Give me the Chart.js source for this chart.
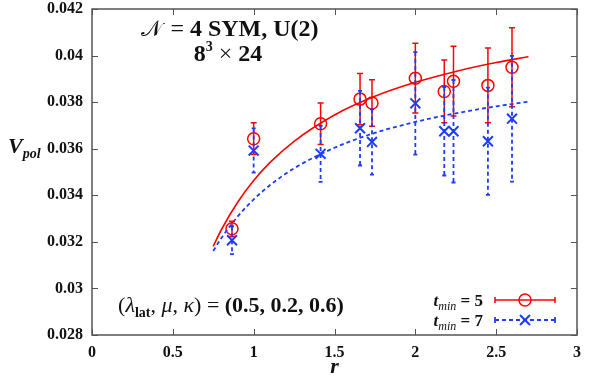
<!DOCTYPE html>
<html>
<head>
<meta charset="utf-8">
<script src="https://cdn.jsdelivr.net/npm/chart.js@4.4.1/dist/chart.umd.min.js"></script>
<style>
  html, body { margin: 0; padding: 0; background: #fff; }
  #wrap { width: 590px; height: 382px; }
</style>
</head>
<body>
<div id="wrap"><canvas id="chart" width="590" height="382"></canvas></div>
<script>
// separations r (lattice units)
const rVals = [0.866, 1, 1.414, 1.658, 1.732, 2, 2.179, 2.236, 2.449, 2.598];

// t_min = 5
const vT5 = [0.03256, 0.03643, 0.03707, 0.03813, 0.03796, 0.03903, 0.03846, 0.0389, 0.03872, 0.0395];
const errT5 = [0.00033, 0.00068, 0.00089, 0.0011, 0.001, 0.0015, 0.00135, 0.0015, 0.0016, 0.0017];

// t_min = 7
const vT7 = [0.03207, 0.03592, 0.03578, 0.03688, 0.03629, 0.03795, 0.03675, 0.03675, 0.03632, 0.03729];
const errT7 = [0.0006, 0.00095, 0.0012, 0.0016, 0.0014, 0.0022, 0.0019, 0.0022, 0.0023, 0.0027];

// fit curves
const fitR = [0.75, 0.8, 0.9, 1.0, 1.1, 1.25, 1.5, 1.75, 2.0, 2.25, 2.5, 2.7];
const fitT5 = [0.03181, 0.03252, 0.03369, 0.03463, 0.0354, 0.03632, 0.03745, 0.03825, 0.03885, 0.03932, 0.0397, 0.03995];
const fitT7 = [0.03161, 0.03216, 0.03308, 0.03382, 0.03443, 0.03516, 0.03604, 0.03668, 0.03715, 0.03752, 0.03782, 0.03802];

const xTicks = [0, 0.5, 1, 1.5, 2, 2.5, 3];
const yTicks = [0.028, 0.03, 0.032, 0.034, 0.036, 0.038, 0.04, 0.042];

const RED = "#ff0000";
const BLUE = "#1e3cff";
const SERIF = "'Liberation Serif', 'DejaVu Serif', serif";

const pts = (xs, ys) => xs.map((x, i) => ({ x: x, y: ys[i] }));

// draw a row of text pieces with different fonts
function drawRuns(ctx, runs, x, y, align) {
  let total = 0;
  runs.forEach(r => { ctx.font = r.font; r.w = ctx.measureText(r.t).width + (r.extra || 0); total += r.w; });
  let cx = align === "center" ? x - total / 2 : align === "right" ? x - total : x;
  ctx.textAlign = "left";
  ctx.textBaseline = "alphabetic";
  runs.forEach(r => {
    ctx.font = r.font;
    ctx.fillText(r.t, cx, y + (r.dy || 0));
    cx += r.w;
  });
}

const errorBars = {
  id: "errorBars",
  afterDatasetsDraw(chart) {
    const { ctx, scales: { x, y } } = chart;
    const sets = [
      { v: vT5, e: errT5, color: RED, dash: [], cap: 3, width: 1.5 },
      { v: vT7, e: errT7, color: BLUE, dash: [4, 3], cap: 2, width: 1.8 }
    ];
    ctx.save();
    sets.forEach(s => {
      ctx.strokeStyle = s.color;
      ctx.lineWidth = s.width;
      rVals.forEach((r, i) => {
        const px = x.getPixelForValue(r);
        const top = y.getPixelForValue(s.v[i] + s.e[i]);
        const bot = y.getPixelForValue(s.v[i] - s.e[i]);
        ctx.setLineDash(s.dash);
        ctx.beginPath();
        ctx.moveTo(px, top);
        ctx.lineTo(px, bot);
        ctx.stroke();
        ctx.setLineDash([]);
        ctx.beginPath();
        ctx.moveTo(px - s.cap, top); ctx.lineTo(px + s.cap, top);
        ctx.moveTo(px - s.cap, bot); ctx.lineTo(px + s.cap, bot);
        ctx.stroke();
      });
    });
    ctx.restore();
  }
};

const frameAndText = {
  id: "frameAndText",
  afterDraw(chart) {
    const { ctx, chartArea: a, scales: { x, y } } = chart;
    ctx.save();
    // frame
    ctx.strokeStyle = "#555";
    ctx.lineWidth = 1.5;
    ctx.strokeRect(a.left, a.top, a.right - a.left, a.bottom - a.top);
    // inward ticks on all sides
    ctx.lineWidth = 1;
    ctx.beginPath();
    xTicks.forEach(t => {
      const px = Math.round(x.getPixelForValue(t)) + 0.5;
      ctx.moveTo(px, a.bottom); ctx.lineTo(px, a.bottom - 6);
      ctx.moveTo(px, a.top); ctx.lineTo(px, a.top + 6);
    });
    yTicks.forEach(t => {
      const py = Math.round(y.getPixelForValue(t)) + 0.5;
      ctx.moveTo(a.left, py); ctx.lineTo(a.left + 6, py);
      ctx.moveTo(a.right, py); ctx.lineTo(a.right - 6, py);
    });
    ctx.stroke();

    ctx.fillStyle = "#111";
    // y axis title
    drawRuns(ctx, [
      { t: "V", font: "italic bold 22px " + SERIF },
      { t: "pol", font: "italic bold 14px " + SERIF, dy: 5 }
    ], 8, 153, "left");

    // header
    drawRuns(ctx, [
      { t: "\u{1D4A9}", font: "22px 'DejaVu Sans', " + SERIF, extra: 8 },
      { t: "= ", font: "24px " + SERIF },
      { t: "4 SYM, U(2)", font: "bold 24px " + SERIF }
    ], 230, 36, "center");
    drawRuns(ctx, [
      { t: "8", font: "bold 24px " + SERIF },
      { t: "3", font: "bold 14px " + SERIF, dy: -10 },
      { t: " \u00D7 ", font: "24px " + SERIF },
      { t: "24", font: "bold 24px " + SERIF }
    ], 228, 61, "center");

    // parameters
    drawRuns(ctx, [
      { t: "(", font: "22px " + SERIF },
      { t: "\u03BB", font: "italic 22px " + SERIF },
      { t: "lat", font: "bold 14px " + SERIF, dy: 5 },
      { t: ", ", font: "22px " + SERIF },
      { t: "\u03BC", font: "italic 22px " + SERIF },
      { t: ", ", font: "22px " + SERIF },
      { t: "\u03BA", font: "italic 22px " + SERIF },
      { t: ") = ", font: "22px " + SERIF },
      { t: "(0.5, 0.2, 0.6)", font: "bold 22px " + SERIF }
    ], 231, 312, "center");

    // legend
    const legend = [
      { label: "5", color: RED, dash: [], yy: 300 },
      { label: "7", color: BLUE, dash: [4, 3], yy: 320 }
    ];
    legend.forEach((l, i) => {
      ctx.fillStyle = "#111";
      drawRuns(ctx, [
        { t: "t", font: "italic bold 17px " + SERIF },
        { t: "min", font: "italic 12px " + SERIF, dy: 4 },
        { t: " = " + l.label, font: "bold 17px " + SERIF }
      ], 483, l.yy + 6, "right");
      ctx.strokeStyle = l.color;
      ctx.lineWidth = i === 0 ? 1.5 : 1.8;
      ctx.setLineDash(l.dash);
      ctx.beginPath();
      ctx.moveTo(495, l.yy); ctx.lineTo(555, l.yy);
      ctx.stroke();
      ctx.setLineDash([]);
      ctx.beginPath();
      ctx.moveTo(495, l.yy - 3); ctx.lineTo(495, l.yy + 3);
      ctx.moveTo(555, l.yy - 3); ctx.lineTo(555, l.yy + 3);
      ctx.stroke();
      ctx.beginPath();
      if (i === 0) {
        ctx.arc(525, l.yy, 6, 0, Math.PI * 2);
      } else {
        ctx.lineWidth = 2;
        ctx.moveTo(520, l.yy - 5); ctx.lineTo(530, l.yy + 5);
        ctx.moveTo(530, l.yy - 5); ctx.lineTo(520, l.yy + 5);
      }
      ctx.stroke();
    });
    ctx.restore();
  }
};

const data = {
  datasets: [
    {
      type: "line",
      data: pts(fitR, fitT5),
      borderColor: RED,
      borderWidth: 1.6,
      pointRadius: 0,
      cubicInterpolationMode: "monotone",
      fill: false
    },
    {
      type: "line",
      data: pts(fitR, fitT7),
      borderColor: BLUE,
      borderWidth: 1.8,
      borderDash: [4, 3],
      pointRadius: 0,
      cubicInterpolationMode: "monotone",
      fill: false
    },
    {
      type: "scatter",
      data: pts(rVals, vT5),
      pointStyle: "circle",
      pointRadius: 6,
      borderColor: RED,
      backgroundColor: "rgba(0,0,0,0)",
      borderWidth: 1.5
    },
    {
      type: "scatter",
      data: pts(rVals, vT7),
      pointStyle: "crossRot",
      pointRadius: 7,
      borderColor: BLUE,
      borderWidth: 2
    }
  ]
};

const config = {
  type: "scatter",
  data: data,
  options: {
    responsive: false,
    animation: false,
    layout: { padding: { left: 0, right: 13, top: 8, bottom: 0 } },
    plugins: { legend: { display: false }, tooltip: { enabled: false } },
    scales: {
      x: {
        type: "linear",
        min: 0,
        max: 3,
        afterBuildTicks: (scale) => { scale.ticks = xTicks.map(v => ({ value: v })); },
        afterFit: (scale) => { scale.height = 47; scale.paddingLeft = 0; scale.paddingRight = 0; },
        grid: { display: false, drawTicks: false },
        border: { display: false },
        ticks: {
          color: "#111",
          padding: 8,
          maxRotation: 0,
          font: { family: SERIF, size: 16, weight: "bold" },
          callback: (v) => String(v)
        },
        title: {
          display: true,
          text: "r",
          color: "#111",
          padding: { top: 0, bottom: 1 },
          font: { family: SERIF, size: 22, weight: "bold", style: "italic" }
        }
      },
      y: {
        type: "linear",
        min: 0.028,
        max: 0.042,
        afterBuildTicks: (scale) => { scale.ticks = yTicks.map(v => ({ value: v })); },
        afterFit: (scale) => { scale.width = 92; scale.paddingTop = 0; scale.paddingBottom = 0; },
        grid: { display: false, drawTicks: false },
        border: { display: false },
        ticks: {
          color: "#111",
          padding: 9,
          font: { family: SERIF, size: 16, weight: "bold" },
          callback: (v) => String(parseFloat(v.toFixed(3)))
        }
      }
    }
  },
  plugins: [errorBars, frameAndText]
};

const myChart = new Chart(document.getElementById("chart").getContext("2d"), config);
</script>
</body>
</html>
